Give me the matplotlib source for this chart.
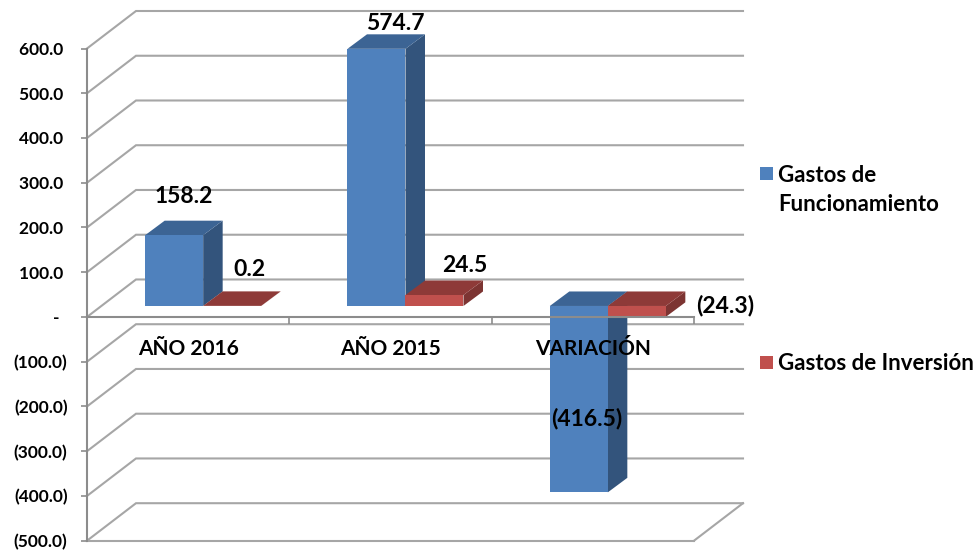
import matplotlib
matplotlib.use('Agg')
import matplotlib.pyplot as plt
from matplotlib.patches import Polygon, Rectangle

categories = ['AÑO 2016', 'AÑO 2015', 'VARIACIÓN']
funcionamiento = [158.2, 574.7, -416.5]
inversion = [0.2, 24.5, -24.3]
funcionamiento_labels = ['158.2', '574.7', '(416.5)']
inversion_labels = ['0.2', '24.5', '(24.3)']
y_ticks = [600, 500, 400, 300, 200, 100, 0, -100, -200, -300, -400, -500]
y_labels = ['600.0 ', '500.0 ', '400.0 ', '300.0 ', '200.0 ', '100.0 ', '-  ',
            '(100.0)', '(200.0)', '(300.0)', '(400.0)', '(500.0)']

W, H = 979, 552
plt.rcParams['font.family'] = ['Lato', 'DejaVu Sans']
plt.rcParams['font.weight'] = 'bold'

fig = plt.figure(figsize=(W / 100, H / 100), dpi=100)
# axes box in pixels of the reference
left, right, top, bottom = 87, 694, 48.5, 540.7
ax = fig.add_axes([left / W, 1 - bottom / H, (right - left) / W, (bottom - top) / H])
ax.set_xlim(-0.5, 2.5)
ax.set_ylim(-500, 600)

px_x = 3 / (right - left)
px_y = 1100 / (bottom - top)

GRID = '#a6a6a6'
# pseudo 3d depth of the walls and of the bars
wall_dx, wall_dy = 49 * px_x, 37.5 * px_y
bar_dx, bar_dy = 19.5 * px_x, 14.5 * px_y
base_dx, base_dy = 15 * px_x, 11 * px_y
bar_w = 58 * px_x

for v in y_ticks:
    ax.plot([-0.5, -0.5 + wall_dx, 2.5 + wall_dx], [v, v + wall_dy, v + wall_dy],
            color=GRID, lw=1.5, zorder=0.5, clip_on=False, solid_joinstyle='miter')
ax.plot([2.5, 2.5 + wall_dx], [-500, -500 + wall_dy], color=GRID, lw=1.5, zorder=0.5, clip_on=False)
ax.plot([-0.5, 2.5], [-500, -500], color=GRID, lw=1.5, zorder=0.5, clip_on=False)


def bar3d(x0, value, front, side, roof):
    x1 = x0 + bar_w
    y0 = base_dy
    y1 = base_dy + value
    hi = max(y0, y1)
    lo = min(y0, y1)
    ax.add_patch(Polygon([(x1, lo), (x1 + bar_dx, lo + bar_dy), (x1 + bar_dx, hi + bar_dy), (x1, hi)],
                         fc=side, ec='none', clip_on=False))
    ax.add_patch(Polygon([(x0, hi), (x0 + bar_dx, hi + bar_dy), (x1 + bar_dx, hi + bar_dy), (x1, hi)],
                         fc=roof, ec='none', clip_on=False))
    ax.add_patch(Rectangle((x0, lo), bar_w, hi - lo, fc=front, ec='none', clip_on=False))


for i in range(len(categories)):
    x_blue = i + base_dx - bar_w
    x_red = i + base_dx
    bar3d(x_blue, funcionamiento[i], '#4f81bd', '#33547c', '#3c6494')
    bar3d(x_red, inversion[i], '#c0504d', '#7c3432', '#8e3a38')

# label offsets from the front edge of each bar, in pixels
blue_off = [(10, 39), (19, 25), (7.5, 74)]
red_off = [(17.6, 36), (30, 30), (88, 11)]
for i in range(len(categories)):
    ax.annotate(funcionamiento_labels[i], (i + base_dx - bar_w / 2, base_dy + funcionamiento[i]),
                xytext=blue_off[i], textcoords='offset pixels', ha='center', va='center',
                fontsize=16.5, color='black', zorder=5, annotation_clip=False)
    ax.annotate(inversion_labels[i], (i + base_dx + bar_w / 2, base_dy + inversion[i]),
                xytext=red_off[i], textcoords='offset pixels', ha='center', va='center',
                fontsize=16.5, color='black', zorder=5, annotation_clip=False)

for s in ['top', 'right']:
    ax.spines[s].set_visible(False)
ax.spines['bottom'].set_position(('data', 0))
for s in ['left', 'bottom']:
    ax.spines[s].set_color('#8c8c8c')
    ax.spines[s].set_linewidth(1.5)
ax.patch.set_alpha(0)

ax.set_yticks(y_ticks)
ax.set_yticklabels(y_labels, fontsize=12.5, color='black')
ax.tick_params(axis='y', length=4, width=1.2, color='#8c8c8c', pad=10)

ax.set_xticks(range(len(categories)))
ax.set_xticklabels(categories, fontsize=15, color='black')
ax.tick_params(axis='x', which='major', length=0, pad=16)
ax.set_xticks([0.5, 1.5, 2.5], minor=True)
ax.tick_params(axis='x', which='minor', length=5, width=1.2, color='#8c8c8c', direction='out')

# legend drawn by hand so the swatch sits on the first line
fig.add_artist(Rectangle((760 / W, 1 - 180 / H), 13 / W, 13 / H, fc='#4f81bd', ec='none',
                         transform=fig.transFigure))
fig.text(778 / W, 1 - 190 / H, 'Gastos de\nFuncionamiento', fontsize=16, va='center',
         ha='left', linespacing=1.45, color='black')
fig.add_artist(Rectangle((760 / W, 1 - 369 / H), 13 / W, 13 / H, fc='#c0504d', ec='none',
                         transform=fig.transFigure))
fig.text(778 / W, 1 - 363 / H, 'Gastos de Inversión', fontsize=16, va='center',
         ha='left', color='black')

fig.savefig('out.png', dpi=100)
